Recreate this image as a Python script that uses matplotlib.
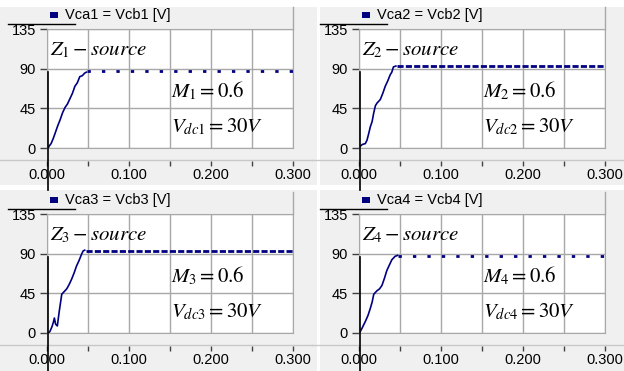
import matplotlib
matplotlib.use("Agg")
import matplotlib.pyplot as plt
from matplotlib.lines import Line2D
from matplotlib.patches import Rectangle

plt.rcParams['font.family'] = ['Liberation Sans', 'DejaVu Sans']
plt.rcParams['mathtext.fontset'] = 'stix'

# ramp-up part of each phase voltage (time in s, voltage in V)
t1 = [0.0015, 0.0025, 0.005, 0.0077, 0.010, 0.013, 0.016, 0.019, 0.022, 0.025, 0.028, 0.031, 0.034, 0.037, 0.040, 0.043, 0.046, 0.048]
v1 = [0, 2, 5, 11, 17, 25, 32, 40, 46, 50, 56, 62, 70, 74, 81, 82, 85, 86]
t2 = [0.0015, 0.004, 0.0077, 0.0098, 0.012, 0.0138, 0.016, 0.018, 0.020, 0.022, 0.026, 0.029, 0.032, 0.035, 0.038, 0.040, 0.042, 0.045]
v2 = [2, 4, 5, 9, 17, 24, 30, 40, 48, 51, 55, 62, 70, 76, 83, 86, 92, 93]
t3 = [0.002, 0.0037, 0.006, 0.0077, 0.009, 0.0105, 0.0126, 0.015, 0.018, 0.021, 0.024, 0.027, 0.030, 0.033, 0.036, 0.039, 0.042, 0.044, 0.046]
v3 = [0, 2, 7, 12, 17, 10, 8, 25, 44, 47, 50, 55, 61, 68, 76, 82, 89, 93, 94]
t4 = [0.0012, 0.004, 0.0077, 0.011, 0.0138, 0.016, 0.018, 0.020, 0.022, 0.025, 0.028, 0.031, 0.034, 0.037, 0.040, 0.044, 0.047]
v4 = [1, 6, 13, 20, 28, 35, 44, 46, 48, 50, 54, 62, 71, 77, 83, 87, 88]

# steady state level after the ramp
t_steady = [[0.049, 0.30], [0.046, 0.30], [0.047, 0.30], [0.048, 0.30]]
v_steady = [87, 93, 92.5, 87]

ramps_t = [t1, t2, t3, t4]
ramps_v = [v1, v2, v3, v4]
legend_txt = ["Vca1 = Vcb1 [V]", "Vca2 = Vcb2 [V]", "Vca3 = Vcb3 [V]", "Vca4 = Vcb4 [V]"]
z_txt = [r"$Z_1 - source$", r"$Z_2 - source$", r"$Z_3 - source$", r"$Z_4 - source$"]
m_txt = [r"$M_1 = 0.6$", r"$M_2 = 0.6$", r"$M_3 = 0.6$", r"$M_4 = 0.6$"]
vdc_txt = [r"$V_{dc1} = 30V$", r"$V_{dc2} = 30V$", r"$V_{dc3} = 30V$", r"$V_{dc4} = 30V$"]
y_ticks = [0, 45, 90, 135]
x_major = [0.0, 0.1, 0.2, 0.3]
x_minor = [0.05, 0.15, 0.25]
x_labels = ["0.000", "0.100", "0.200", "0.300"]

W, H = 624, 371
fig = plt.figure(figsize=(6.24, 3.71), dpi=100, facecolor='#f0f0f0')

navy = '#000080'
gridc = '#a8a8a8'

def fx(px):
    return px / W

def fy(py):
    return 1 - py / H

origins = [(0, 0), (312, 0), (0, 185), (312, 185)]
dense = [False, True, True, False]

# white bands: top margin and between the panels
fig.add_artist(Rectangle((0, fy(7)), 1, 7 / H, color='white', lw=0))
fig.add_artist(Rectangle((0, fy(190)), 1, 5 / H, color='white', lw=0))
fig.add_artist(Rectangle((fx(316.5), 0), 3 / W, 1, color='white', lw=0))

for i, (ox, oy) in enumerate(origins):
    L, R, T, B = ox + 47, ox + 293, oy + 29, oy + 148
    ax = fig.add_axes([fx(L), fy(B), fx(R - L), (B - T) / H])
    ax.set_facecolor('white')
    ax.plot(ramps_t[i], ramps_v[i], color=navy, lw=1.2)
    if dense[i]:
        ax.plot(t_steady[i], [v_steady[i]] * 2, color=navy, lw=2, dashes=(2.2, 0.8))
    else:
        ax.plot(t_steady[i], [v_steady[i]] * 2, color=navy, lw=2, dashes=(1.2, 4))
    ax.set_xlim(0, 0.3)
    ax.set_ylim(0, 135)
    ax.set_yticks(y_ticks)
    ax.set_xticks(x_major)
    ax.set_xticks(x_minor, minor=True)
    ax.grid(True, which='both', color=gridc, lw=1)
    ax.tick_params(axis='y', direction='out', length=5, width=1, color='#404040',
                   labelsize=10.5, pad=3)
    ax.tick_params(axis='x', which='both', length=0, labelbottom=False)
    for s in ax.spines.values():
        s.set_color(gridc)

    # x axis drawn in the strip below the plot
    sec = ax.secondary_xaxis(-0.11)
    sec.set_xticks(x_major)
    sec.set_xticklabels(x_labels)
    sec.set_xticks(x_minor, minor=True)
    sec.spines['bottom'].set_visible(False)
    sec.tick_params(which='both', direction='out', length=3.5, width=1, color='#404040',
                    labelsize=10.5, pad=1.5)

    ax.text(0.012, 0.82, z_txt[i], transform=ax.transAxes, fontsize=15, va='center')
    ax.text(0.505, 0.48, m_txt[i], transform=ax.transAxes, fontsize=15, va='center')
    ax.text(0.505, 0.18, vdc_txt[i], transform=ax.transAxes, fontsize=15, va='center')

    # legend strip
    fig.add_artist(Rectangle((fx(ox + 50), fy(oy + 18)), fx(8), 6 / H, color=navy, lw=0))
    fig.text(fx(ox + 65), fy(oy + 15), legend_txt[i], fontsize=10.5, va='center')
    fig.add_artist(Line2D([fx(ox + 8), fx(ox + 75)], [fy(oy + 23.5)] * 2, color='black', lw=1))
    fig.add_artist(Line2D([fx(R), fx(R)], [fy(oy + 7), fy(T)], color=gridc, lw=1))
    # axis strip divider
    fig.add_artist(Line2D([fx(ox), fx(ox + 312)], [fy(oy + 159.5)] * 2, color='#c8c8c8', lw=1))
    # cursor line
    fig.add_artist(Line2D([fx(ox + 48), fx(ox + 48)], [fy(oy + 72), fy(oy + 190)], color='black', lw=1.2))

fig.savefig("out.png", dpi=100, facecolor=fig.get_facecolor())
